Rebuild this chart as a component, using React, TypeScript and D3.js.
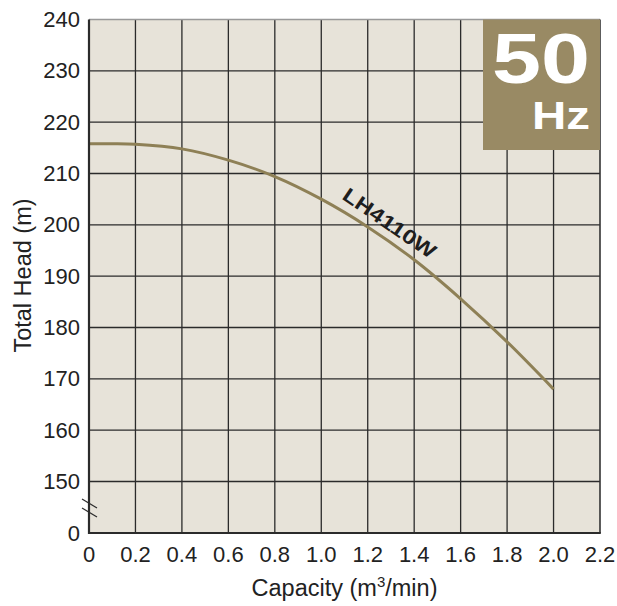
import React from "react";
import * as d3 from "d3";

const xTicks = [0, 0.2, 0.4, 0.6, 0.8, 1.0, 1.2, 1.4, 1.6, 1.8, 2.0, 2.2];
const yTicks = [0, 150, 160, 170, 180, 190, 200, 210, 220, 230, 240];
const capacity = [0, 0.1, 0.2, 0.4, 0.6, 0.8, 1.0, 1.2, 1.4, 1.6, 1.8, 2.0];
const head = [215.8, 215.8, 215.7, 214.8, 212.6, 209.4, 205.0, 199.6, 193.2, 185.6, 177.2, 168.0];
const seriesName = "LH4110W";

const W = 617;
const H = 606;
const left = 89;
const right = 600;
const top = 19.5;
const bottom = 533;

export default function App() {
  const x = d3.scaleLinear().domain([0, 2.2]).range([left, right]);
  const y = d3.scaleLinear().domain([0, 150, 240]).range([bottom, 481.5, top]);
  const line = d3
    .line<number>()
    .x((_, i) => x(capacity[i]))
    .y((d) => y(d))
    .curve(d3.curveCatmullRom.alpha(0.5));
  const font = "'Liberation Sans', Arial, Helvetica, sans-serif";
  const lbl = { x: 389.5, y: 223 };
  return (
    <svg
      width={W}
      height={H}
      style={{ position: "absolute", left: 0, top: 0, background: "#fff" }}
      fontFamily={font}
    >
      <rect x={left} y={top} width={right - left} height={bottom - top} fill="#e7e3d9" />
      {xTicks.slice(1, -1).map((t) => (
        <line key={"vx" + t} x1={x(t)} x2={x(t)} y1={top} y2={bottom} stroke="#2b2b2b" strokeWidth={1.3} />
      ))}
      {yTicks.slice(1, -1).map((t) => (
        <line key={"hy" + t} x1={left} x2={right} y1={y(t)} y2={y(t)} stroke="#2b2b2b" strokeWidth={1.3} />
      ))}
      <line x1={left} x2={right} y1={top} y2={top} stroke="#999" strokeWidth={1.5} />
      <line x1={right} x2={right} y1={top} y2={bottom} stroke="#333" strokeWidth={1.6} />
      <path d={line(head) || ""} fill="none" stroke="#8e8056" strokeWidth={3} />
      <text
        x={0}
        y={0}
        transform={`translate(${lbl.x},${lbl.y}) rotate(34.5)`}
        textAnchor="middle"
        dominantBaseline="central"
        fontWeight="bold"
        fontSize={20}
        fill="#1e1e1e"
        textLength={108}
        lengthAdjust="spacingAndGlyphs"
      >
        {seriesName}
      </text>
      <rect x={483} y={top} width={right - 483} height={150 - top} fill="#998a64" />
      <text x={541} y={83} textAnchor="middle" fontWeight="bold" fontSize={70} fill="#fff" textLength={98} lengthAdjust="spacingAndGlyphs">
        50
      </text>
      <text x={561} y={128.5} textAnchor="middle" fontWeight="bold" fontSize={39} fill="#fff" textLength={58} lengthAdjust="spacingAndGlyphs">
        Hz
      </text>
      <line x1={left} x2={left} y1={top} y2={bottom + 1} stroke="#2b2b2b" strokeWidth={2.2} />
      <line x1={left - 1} x2={right + 0.8} y1={bottom} y2={bottom} stroke="#2b2b2b" strokeWidth={2.2} />
      <line x1={82} y1={499} x2={97} y2={508} stroke="#2b2b2b" strokeWidth={1.2} />
      <line x1={82} y1={508} x2={97} y2={517} stroke="#2b2b2b" strokeWidth={1.2} />
      {yTicks.map((t) => (
        <text key={"yl" + t} x={80} y={y(t) + 7.5} textAnchor="end" fontSize={22} fill="#222">
          {t}
        </text>
      ))}
      {xTicks.map((t) => (
        <text key={"xl" + t} x={x(t)} y={561.5} textAnchor="middle" fontSize={22} fill="#222">
          {t === 0 ? "0" : t.toFixed(1)}
        </text>
      ))}
      <text x={344.5} y={596} textAnchor="middle" fontSize={23.5} fill="#222">
        Capacity (m<tspan fontSize={15} dy={-9}>3</tspan><tspan dy={9}>/min)</tspan>
      </text>
      <text
        transform={`translate(30.5,275.5) rotate(-90)`}
        textAnchor="middle"
        fontSize={23.5}
        fill="#222"
      >
        Total Head (m)
      </text>
    </svg>
  );
}
